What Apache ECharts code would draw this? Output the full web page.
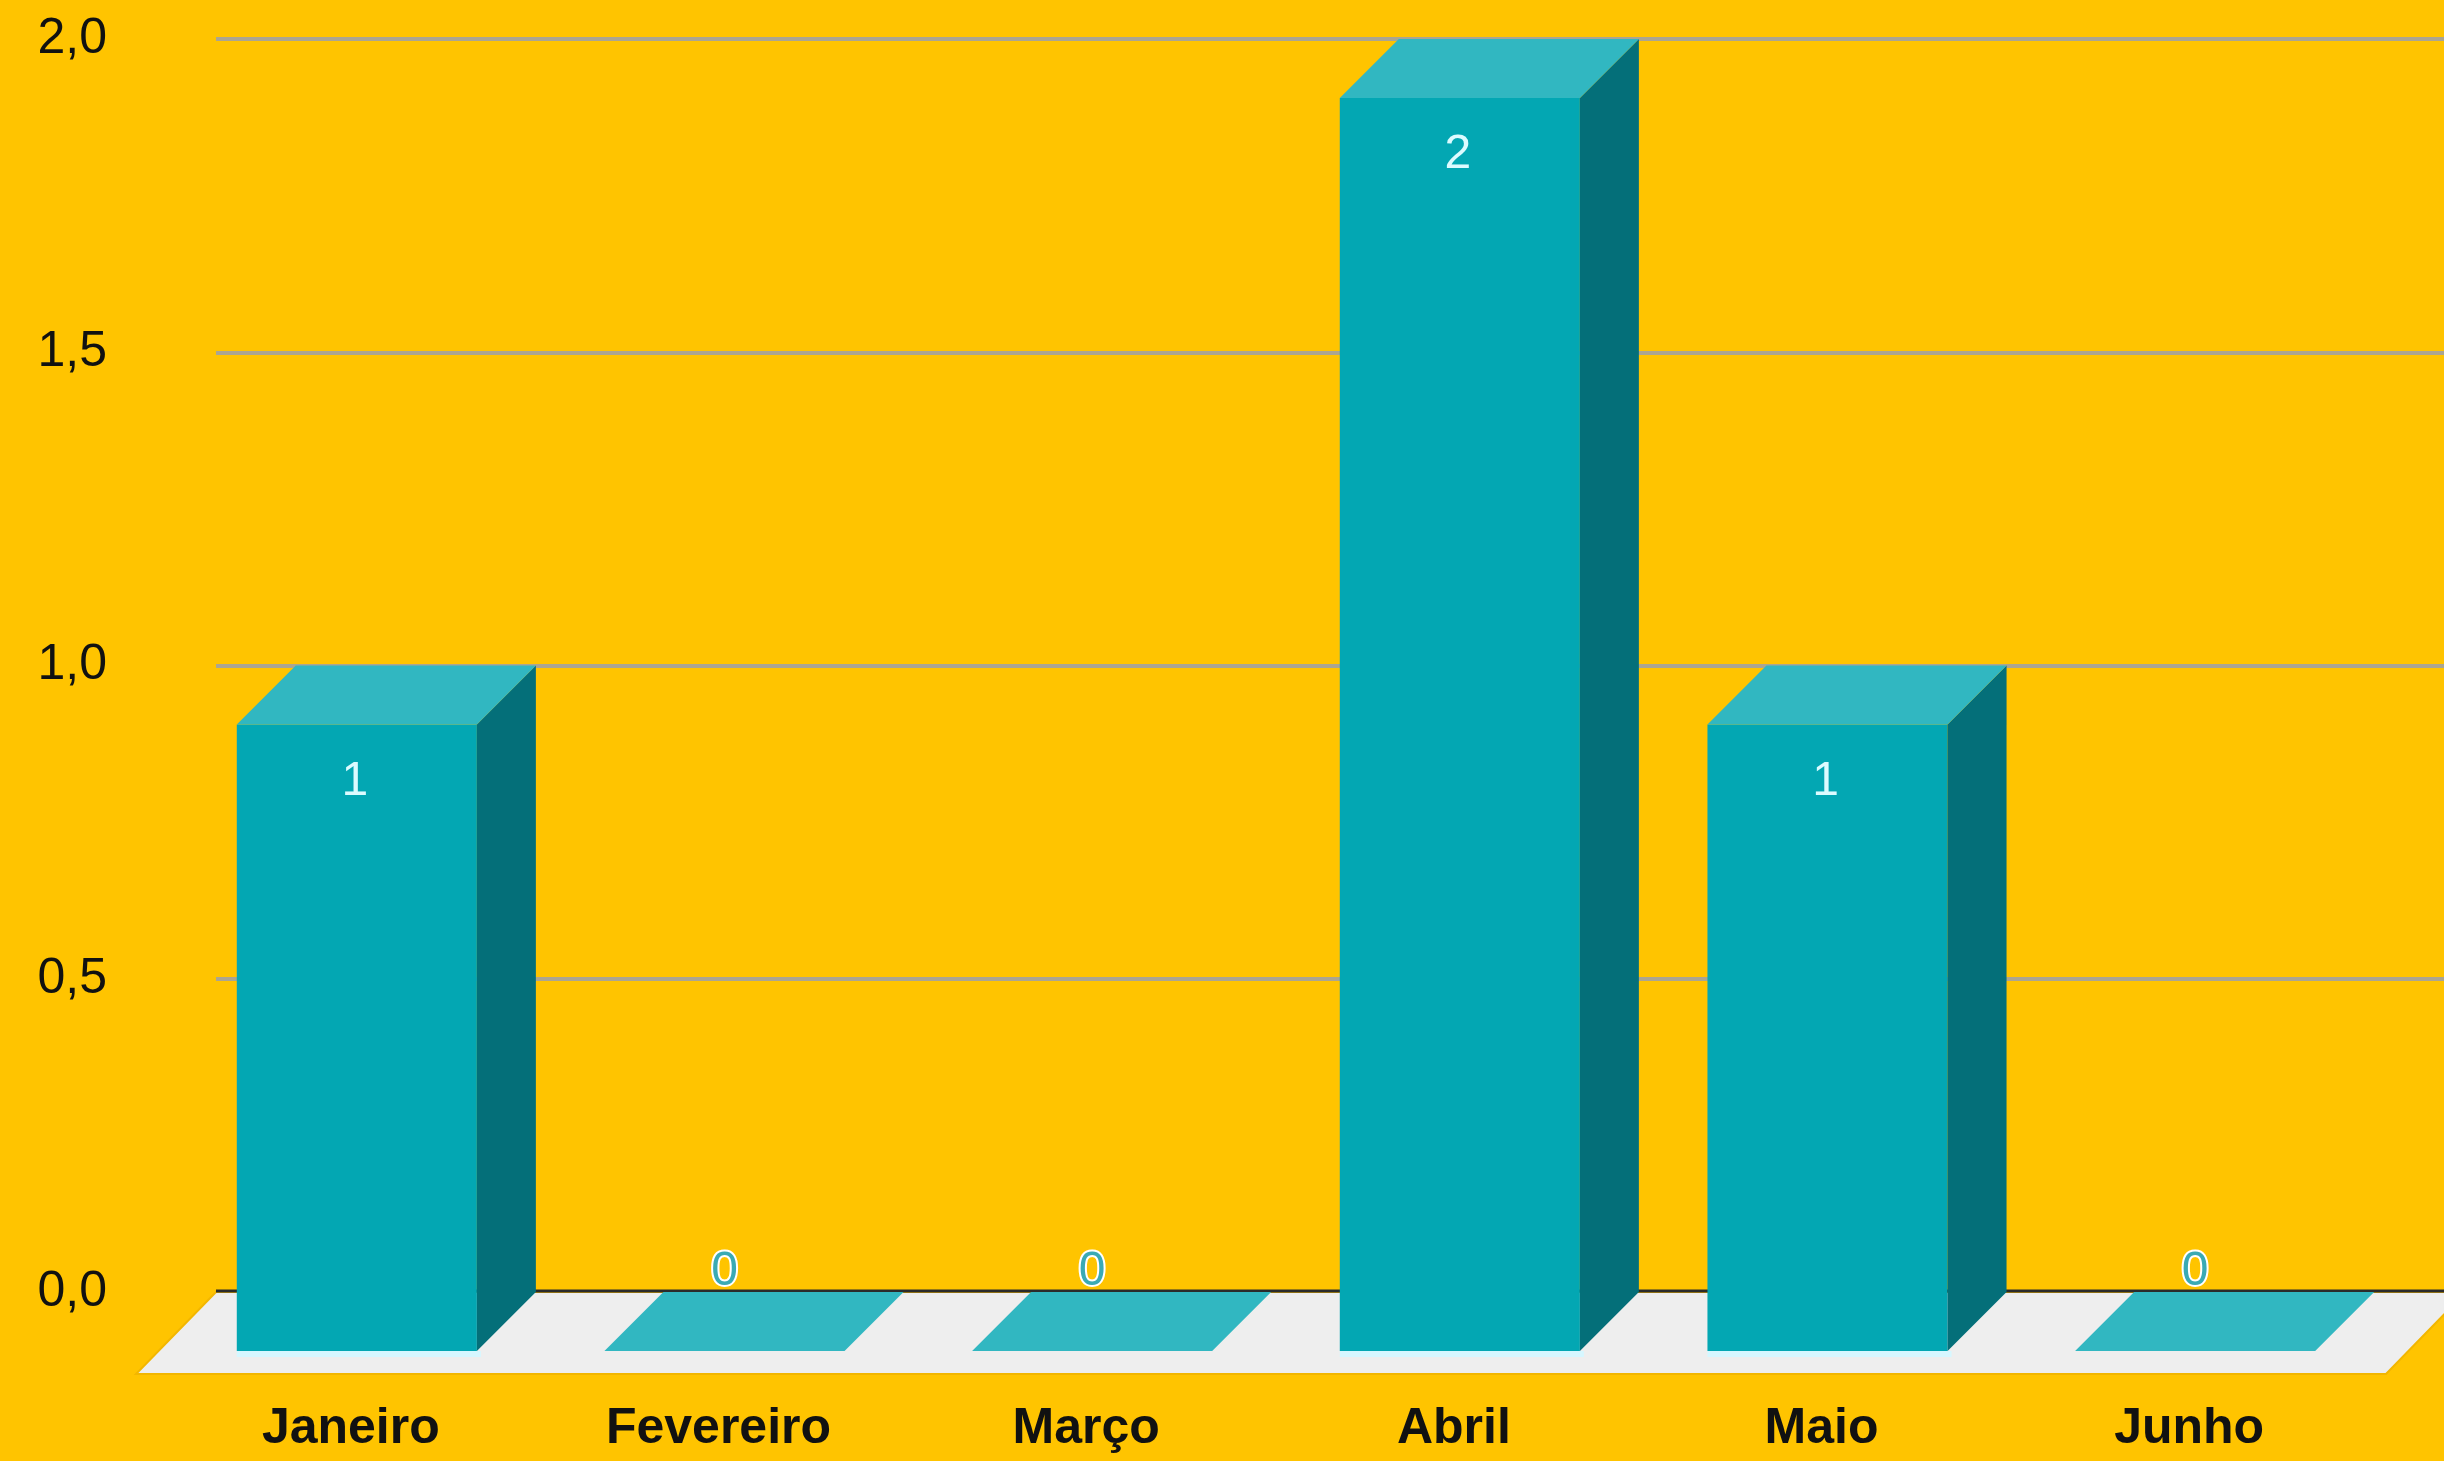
<!DOCTYPE html>
<html>
<head>
<meta charset="utf-8">
<title>Meses</title>
<script src="https://cdn.jsdelivr.net/npm/echarts@6/dist/echarts.min.js"></script>
<style>
  html, body { margin: 0; padding: 0; background: #ffc400; }
  #chart { width: 2444px; height: 1461px; }
</style>
</head>
<body>
<div id="chart"></div>
<script>
var meses = ['Janeiro', 'Fevereiro', 'Março', 'Abril', 'Maio', 'Junho'];
var valores = [1, 0, 0, 2, 1, 0];
var yMin = 0, yMax = 2, yStep = 0.5;

// 3d look (px)
var DEPTH = 59;
var FLOOR_DEPTH = 82;
var BAR_RATIO = 0.653;

var FRONT = '#03a7b3';
var SIDE = '#046f79';
var TOP = '#31b7c1';
var FLOOR = '#eeeeee';
var FONT = '"Liberation Sans", Arial, sans-serif';

var chart = echarts.init(document.getElementById('chart'));

function renderFloor(params, api) {
  var cs = params.coordSys;
  var y0 = api.coord([0, 0])[1];
  var left = cs.x - 16;
  var right = cs.x + cs.width + 28;
  var d = FLOOR_DEPTH;
  return {
    type: 'group',
    children: [
      {
        type: 'polygon',
        shape: { points: [[left, y0], [right, y0], [right - d + 2, y0 + d], [left - d + 2, y0 + d]] },
        style: { fill: FLOOR, stroke: '#f2b600', lineWidth: 2 }
      },
      {
        type: 'line',
        shape: { x1: left, y1: y0 - 1, x2: right, y2: y0 - 1 },
        style: { stroke: '#2b2b2b', lineWidth: 3 }
      }
    ]
  };
}

function renderBar(params, api) {
  var i = api.value(0);
  var v = api.value(1);
  var top = api.coord([i, v]);
  var base = api.coord([i, 0]);
  var w = api.size([1, 0])[0] * BAR_RATIO;
  var d = DEPTH;
  var xl = top[0] - w / 2, xr = top[0] + w / 2;
  var yt = top[1], y0 = base[1];
  var children = [];

  if (v > 0) {
    // light reflection on the floor under the bar
    children.push({
      type: 'rect',
      shape: { x: xl - d, y: y0 + d, width: w + 4, height: 6 },
      style: { fill: '#d6f7ff' }
    });
    children.push({
      type: 'rect',
      shape: { x: xl - d, y: yt + d, width: w, height: y0 - yt },
      style: { fill: FRONT }
    });
    children.push({
      type: 'polygon',
      shape: { points: [[xr - d, yt + d], [xr, yt], [xr, y0], [xr - d, y0 + d]] },
      style: { fill: SIDE }
    });
  }
  children.push({
    type: 'polygon',
    shape: { points: [[xl - d, yt + d], [xr - d, yt + d], [xr, yt], [xl, yt]] },
    style: { fill: TOP }
  });

  if (v > 0) {
    children.push({
      type: 'text',
      style: {
        text: String(v), x: top[0] - d - 2, y: yt + d + 57,
        align: 'center', verticalAlign: 'middle',
        fill: '#dcfbff', font: '48px ' + FONT
      }
    });
  } else {
    children.push({
      type: 'text',
      style: {
        text: String(v), x: top[0] - d, y: y0 - 20,
        align: 'center', verticalAlign: 'middle',
        fill: '#3aaab4', stroke: '#ffffff', lineWidth: 4,
        font: '48px ' + FONT
      }
    });
  }
  return { type: 'group', children: children };
}

chart.setOption({
  backgroundColor: '#ffc400',
  animation: false,
  grid: [
    { left: 216, right: 0, top: 39, bottom: 169 },
    { left: 232, right: 6, top: 39, bottom: 169 }
  ],
  xAxis: [
    { type: 'value', gridIndex: 0, min: 0, max: 1, show: false },
    {
      type: 'category',
      gridIndex: 1,
      data: meses,
      axisLine: { show: false },
      axisTick: { show: false },
      axisLabel: {
        interval: 0,
        margin: 112,
        padding: [0, 130, 0, 0],
        fontFamily: FONT,
        fontWeight: 'bold',
        fontSize: 50,
        lineHeight: 50,
        color: '#111111'
      }
    }
  ],
  yAxis: [
    {
      type: 'value',
      gridIndex: 0,
      min: yMin,
      max: yMax,
      interval: yStep,
      axisLine: { show: false },
      axisTick: { show: false },
      axisLabel: {
        margin: 109,
        fontFamily: FONT,
        fontSize: 50,
        color: '#111111',
        formatter: function (val) { return val.toFixed(1).replace('.', ','); }
      },
      splitLine: { lineStyle: { color: '#aba591', width: 4 } }
    },
    { type: 'value', gridIndex: 1, min: yMin, max: yMax, show: false }
  ],
  series: [
    {
      name: 'piso',
      type: 'custom',
      xAxisIndex: 1,
      yAxisIndex: 1,
      renderItem: renderFloor,
      data: [[0, 0]],
      silent: true,
      z: 1
    },
    {
      name: 'Valores',
      type: 'custom',
      xAxisIndex: 1,
      yAxisIndex: 1,
      renderItem: renderBar,
      data: valores.map(function (v, i) { return [i, v]; }),
      z: 2
    }
  ]
});
</script>
</body>
</html>
